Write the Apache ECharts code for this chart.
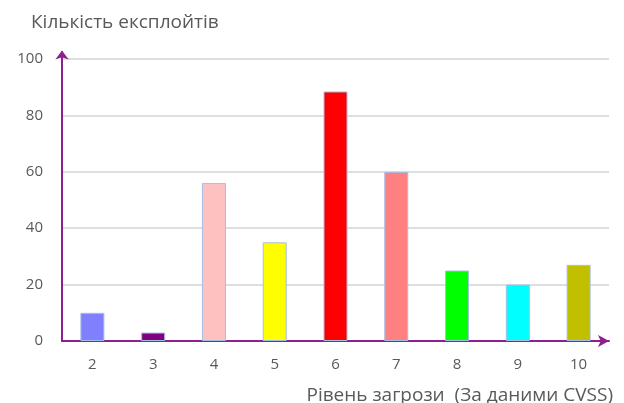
<!DOCTYPE html>
<html>
<head>
<meta charset="utf-8">
<script src="https://cdn.jsdelivr.net/npm/echarts@6/dist/echarts.min.js"></script>
<style>
  html, body { margin: 0; padding: 0; background: #fff; }
  #chart { width: 624px; height: 403px; }
</style>
</head>
<body>
<div id="chart"></div>
<script>
// Severity levels (CVSS) and number of exploits per level
const categories = ['2', '3', '4', '5', '6', '7', '8', '9', '10'];
const exploitCounts = [10, 3, 56, 35, 88.5, 60, 25, 20, 27];
const barColors = ['#8080FF', '#800080', '#FFC0C0', '#FFFF00', '#FF0000', '#FF8080', '#00FF00', '#00FFFF', '#C0C000'];
const yTicks = [0, 20, 40, 60, 80, 100];
// the vertical axis line runs a little above the last tick, up to its arrow
const yAxisTop = 102.5;

const axisPurple = '#8E1F8E';
const textGray = '#595959';
const fontFamily = '"Open Sans", "Noto Sans", sans-serif';

const chart = echarts.init(document.getElementById('chart'), null, { renderer: 'canvas' });

chart.setOption({
  animation: false,
  backgroundColor: '#ffffff',
  title: [
    {
      text: 'Кількість експлойтів',
      left: 26, top: 8,
      textStyle: { color: textGray, fontSize: 19, fontWeight: 'normal', fontFamily: fontFamily }
    },
    {
      text: 'Рівень загрози  (За даними CVSS)',
      right: 6, top: 381,
      textStyle: { color: textGray, fontSize: 19, fontWeight: 'normal', fontFamily: fontFamily }
    }
  ],
  grid: { left: 62, right: 15, top: 52, bottom: 62, containLabel: false },
  xAxis: {
    type: 'category',
    data: categories,
    axisLine: {
      show: true,
      symbol: ['none', 'arrow'],
      symbolSize: [9, 11],
      lineStyle: { color: axisPurple, width: 2 }
    },
    axisTick: { show: false },
    axisLabel: { color: textGray, fontSize: 15, margin: 16, fontFamily: fontFamily },
    splitLine: { show: false }
  },
  yAxis: {
    type: 'value',
    min: yTicks[0],
    max: yAxisTop,
    interval: 20,
    axisLine: {
      show: true,
      symbol: ['none', 'arrow'],
      symbolSize: [10, 9],
      symbolOffset: [0, 1.5],
      lineStyle: { color: axisPurple, width: 2 }
    },
    axisTick: { show: false },
    axisLabel: { color: textGray, fontSize: 15, margin: 19, fontFamily: fontFamily, showMaxLabel: false },
    splitLine: { show: true, showMaxLine: false, lineStyle: { color: '#DEDEDE', width: 2 } }
  },
  series: [{
    type: 'bar',
    barWidth: 24,
    data: exploitCounts.map((v, i) => ({
      value: v,
      itemStyle: { color: barColors[i], borderColor: '#A3BFE6', borderWidth: 1 }
    }))
  }]
});
</script>
</body>
</html>
